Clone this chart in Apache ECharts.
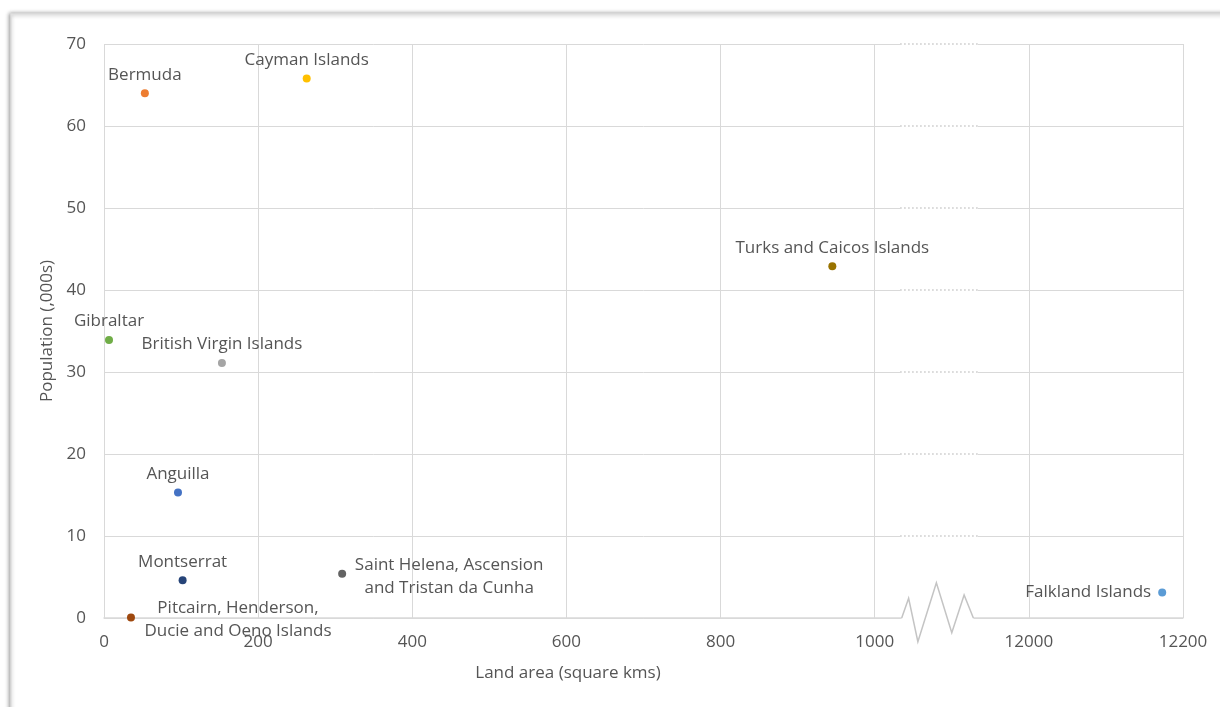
<!DOCTYPE html>
<html>
<head>
<meta charset="utf-8">
<script src="https://cdn.jsdelivr.net/npm/echarts@6/dist/echarts.min.js"></script>
<style>
html,body{margin:0;padding:0;background:#fff;}
#chart{width:1220px;height:707px;}
</style>
</head>
<body>
<div id="chart"></div>
<script>
// ---- data ----
const territories = ['Bermuda','Cayman Islands','Turks and Caicos Islands','Gibraltar','British Virgin Islands','Anguilla','Montserrat','Saint Helena, Ascension\nand Tristan da Cunha','Pitcairn, Henderson,\nDucie and Oeno Islands','Falkland Islands'];
const landArea = [53, 263, 945, 6.5, 153, 96, 102, 309, 35, 12173];
const population = [64.0, 65.8, 42.9, 33.9, 31.1, 15.3, 4.6, 5.4, 0.05, 3.1];
const pointColors = ['#ED7D31','#FFC000','#997300','#70AD47','#A5A5A5','#4472C4','#264478','#636363','#9E480E','#5B9BD5'];
const xTickValues = [0, 200, 400, 600, 800, 1000, 1200, 1400];
const xTickLabels = ['0','200','400','600','800','1000','12000','12200'];
const yTicks = [0, 10, 20, 30, 40, 50, 60, 70];
// axis break: values above breakFrom are shown shifted down by breakShift
const breakFrom = 1100, breakShift = 10800;
const labelPlacement = ['top','top','top','top','top','top','top','rightCenter','rightCenter','left'];

function toAxis(v){ return v > breakFrom ? v - breakShift : v; }

const FONT = 'Open Sans';
const TXT = '#555555';
const GRID = '#d9d9d9';

const data = territories.map((name, i) => {
  const p = labelPlacement[i];
  let label;
  if (p === 'rightCenter') {
    label = {show:true, position:[111, 6.5], align:'center', verticalAlign:'middle', lineHeight:23};
  } else if (p === 'left') {
    label = {show:true, position:'left', distance:7};
  } else {
    label = {show:true, position:'top', distance:6};
  }
  return {name:name, value:[toAxis(landArea[i]), population[i]], itemStyle:{color:pointColors[i], opacity:1}, label:label};
});

const chart = echarts.init(document.getElementById('chart'));
chart.setOption({
  animation:false,
  backgroundColor:'#fff',
  grid:{left:104, right:37, top:44, bottom:89},
  title:{text:'Land area (square kms)', left:563, top:660, textAlign:'center',
    textStyle:{fontFamily:FONT, fontSize:17, fontWeight:'normal', color:TXT}},
  xAxis:{type:'value', min:0, max:1400, interval:200,
    axisLine:{show:true, lineStyle:{color:GRID, width:1.5}},
    axisTick:{show:false},
    splitLine:{show:true, lineStyle:{color:GRID}},
    axisLabel:{margin:16, fontFamily:FONT, fontSize:17, color:TXT,
      formatter:function(v){ const k = xTickValues.indexOf(v); return k>=0 ? xTickLabels[k] : ''; }}
  },
  yAxis:{type:'value', min:0, max:70, interval:10,
    name:'Population (,000s)', nameLocation:'middle', nameGap:46,
    nameTextStyle:{fontFamily:FONT, fontSize:17, color:TXT},
    axisLine:{show:false}, axisTick:{show:false},
    splitLine:{show:true, lineStyle:{color:GRID}},
    axisLabel:{margin:18, fontFamily:FONT, fontSize:17, color:TXT}
  },
  series:[{type:'scatter', symbol:'circle', symbolSize:8, data:data,
    label:{formatter:'{b}', fontFamily:FONT, fontSize:17, color:TXT},
    z:5}]
});

// decorative axis-break and frame, positioned via the axis scales
const px = v => chart.convertToPixel({xAxisIndex:0}, v);
const py = v => chart.convertToPixel({yAxisIndex:0}, v);
const gapX0 = px(1033), gapX1 = px(1134);
const zig = [[1035,0],[1044,2.4],[1056,-2.9],[1080,4.3],[1100,-1.8],[1116,2.8],[1128,0]];
const graphics = [];
graphics.push({type:'rect', z:-10, silent:true,
  shape:{x:11, y:14, width:1260, height:760},
  style:{fill:'#fff', stroke:'#e0e0e0', lineWidth:1.5, shadowBlur:4, shadowColor:'rgba(0,0,0,0.4)', shadowOffsetX:-1, shadowOffsetY:0}});
graphics.push({type:'rect', z:3, silent:true,
  shape:{x:gapX0, y:py(70)-2, width:gapX1-gapX0, height:py(10)-py(70)+4},
  style:{fill:'#fff'}});
yTicks.filter(t => t > 0).forEach(t => {
  graphics.push({type:'line', z:4, silent:true,
    shape:{x1:gapX0, y1:py(t), x2:gapX1, y2:py(t)},
    style:{stroke:'#c8c8c8', lineWidth:1.4, lineDash:[1.5,2.5]}});
});
graphics.push({type:'rect', z:3, silent:true,
  shape:{x:px(1035), y:py(0)-2, width:px(1128)-px(1035), height:4},
  style:{fill:'#fff'}});
graphics.push({type:'polyline', z:4, silent:true,
  shape:{points: zig.map(p => [px(p[0]), py(p[1])])},
  style:{stroke:'#c4c4c4', lineWidth:1.5, fill:null}});
chart.setOption({graphic:graphics});
</script>
</body>
</html>
